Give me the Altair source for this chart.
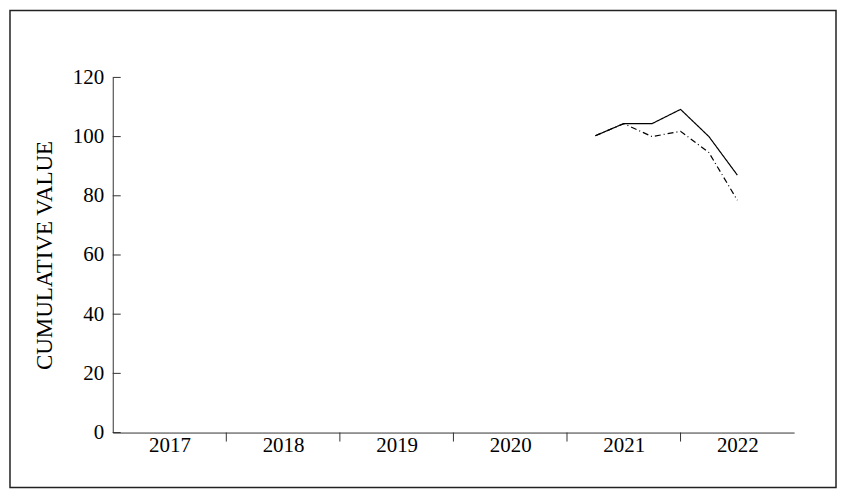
import altair as alt
import pandas as pd

quarters = [2021.25, 2021.5, 2021.75, 2022.0, 2022.25, 2022.5]
solid_vals = [100.3, 104.4, 104.4, 109.2, 100.0, 87.0]
dash_vals = [100.3, 104.4, 100.0, 101.8, 94.6, 78.5]
years = [2017, 2018, 2019, 2020, 2021, 2022]
y_ticks = [0, 20, 40, 60, 80, 100, 120]

W, H = 683, 356
FONT = "Liberation Serif"

df = pd.DataFrame({
    "t": quarters * 2,
    "v": solid_vals + dash_vals,
    "s": ["A"] * len(quarters) + ["B"] * len(quarters),
})

xs = alt.Scale(domain=[2017, 2023], nice=False, zero=False)
ys = alt.Scale(domain=[0, 120], nice=False)

lines = alt.Chart(df).mark_line(color="black", strokeWidth=1.2).encode(
    x=alt.X("t:Q", scale=xs,
            axis=alt.Axis(values=[y + 0.5 for y in years], labelExpr="floor(datum.value)",
                          ticks=False, tickSize=0, labelPadding=2, grid=False,
                          title=None, domainColor="#333", labelFont=FONT,
                          labelFontSize=21, labelColor="black")),
    y=alt.Y("v:Q", scale=ys,
            axis=alt.Axis(values=y_ticks, ticks=False, tickSize=0, labelPadding=9,
                          grid=False, title="CUMULATIVE VALUE", titleFont=FONT,
                          titleFontSize=23, titleFontWeight="normal", titleColor="black",
                          titlePadding=16, domainColor="#333", labelFont=FONT,
                          labelFontSize=21, labelColor="black")),
    strokeDash=alt.StrokeDash("s:N", scale=alt.Scale(domain=["A", "B"], range=[[1, 0], [6, 3, 1, 3]]),
                              legend=None),
)

xt = alt.Chart(pd.DataFrame({"x": years[1:]})).mark_rule(color="#333", strokeWidth=1).encode(
    x=alt.X("x:Q", scale=xs), y=alt.value(H), y2=alt.value(H + 9)
)
yt = alt.Chart(pd.DataFrame({"y": y_ticks})).mark_rule(color="#333", strokeWidth=1).encode(
    y=alt.Y("y:Q", scale=ys), x=alt.value(0), x2=alt.value(8)
)
border = alt.Chart(pd.DataFrame({"a": [0]})).mark_rect(
    fill=None, stroke="#222", strokeWidth=1.5
).encode(x=alt.value(-103), x2=alt.value(725), y=alt.value(-67), y2=alt.value(411))

chart = alt.layer(border, lines, xt, yt).properties(
    width=W, height=H, padding=1
).configure(font=FONT, background="white", view=alt.ViewConfig(strokeWidth=0, stroke="transparent"))

chart.save("out.html", embed_options={"renderer": "svg", "actions": False})
